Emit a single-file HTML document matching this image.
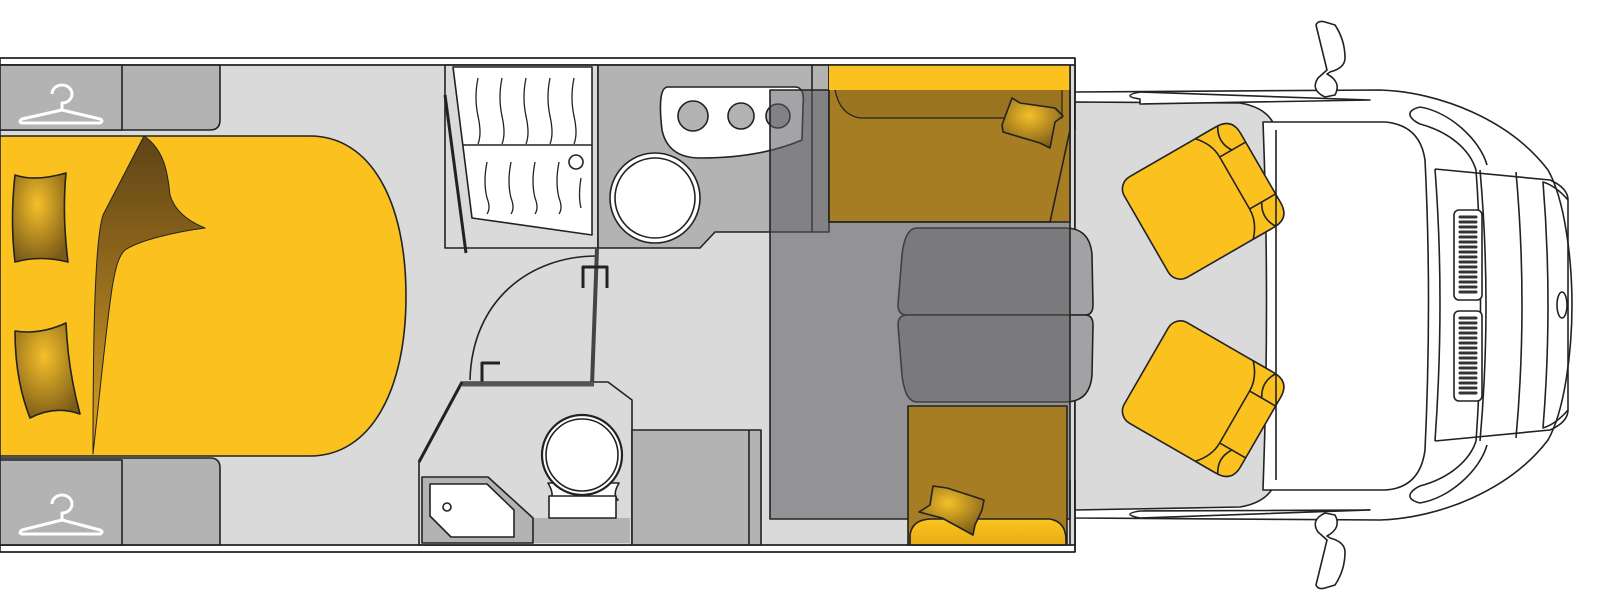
<!DOCTYPE html>
<html><head><meta charset="utf-8"><style>html,body{margin:0;padding:0;background:#fff}svg{display:block}</style></head>
<body>
<svg width="1600" height="611" viewBox="0 0 1600 611" xmlns="http://www.w3.org/2000/svg">
<defs>
<radialGradient id="pil" cx="0.45" cy="0.35" r="0.7"><stop offset="0" stop-color="#f5c02a"/><stop offset="1" stop-color="#7a5a18"/></radialGradient>
<linearGradient id="flap" x1="0" y1="0" x2="0" y2="1"><stop offset="0" stop-color="#5e4315"/><stop offset="0.6" stop-color="#a77a1f"/><stop offset="1" stop-color="#d9a21f"/></linearGradient>
<linearGradient id="ys" x1="0" y1="0" x2="0" y2="1"><stop offset="0" stop-color="#fbc41e"/><stop offset="1" stop-color="#e9ad18"/></linearGradient>
</defs>
<g stroke="#222" stroke-width="1.6" stroke-linejoin="round">
<rect x="0" y="58" width="1075" height="494" fill="#fff"/>
<rect x="0" y="65" width="1075" height="480" fill="#dadada"/>
<path d="M1075,92 L1380,90 C1440,92 1510,120 1548,170 C1565,200 1572,260 1572,305 C1572,350 1565,410 1548,440 C1510,490 1440,518 1380,520 L1075,518 Z" fill="#fff"/>
<path d="M1075,102 L1240,103 Q1270,108 1276,130 V480 Q1270,502 1240,507 L1075,510 Z" fill="#dadada"/>
<path d="M0,65 H220 V120 Q220,130 210,130 H0 Z" fill="#b3b3b3"/>
<rect x="0" y="65" width="122" height="65" fill="#b3b3b3"/>
<path d="M0,458 H210 Q220,458 220,468 V545 H0 Z" fill="#b3b3b3"/>
<rect x="0" y="460" width="122" height="85" fill="#b3b3b3"/>
<path d="M0,136 H310 C370,136 406,200 406,296 C406,392 370,456 310,456 H0 Z" fill="#fbc11f"/>
<path d="M144,136 C165,150 168,175 170,195 C175,212 190,222 205,228 C175,232 140,240 125,250 C112,262 110,300 93,454 C93,330 95,240 103,215 Z" fill="url(#flap)" stroke-width="1"/>
<path d="M15,175 Q35,182 66,173 Q62,215 68,262 Q40,255 15,262 Q10,220 15,175 Z" fill="url(#pil)"/>
<path d="M15,331 Q40,335 66,323 Q68,370 80,414 Q55,405 30,418 Q15,380 15,331 Z" fill="url(#pil)"/>
<g fill="none" stroke="#fff" stroke-width="3">
<path d="M52,94 A10,9 0 1 1 62,103 V110 M62,110 L22,119 Q18,122 22,123 H100 Q104,121 100,119 L62,110"/>
<path d="M52,504 A10,9 0 1 1 62,513 V520 M62,520 L22,530 Q18,533 22,534 H100 Q104,532 100,530 L62,520"/>
</g>
<rect x="445" y="65" width="153" height="183" fill="#dadada"/>
<path d="M453,67 H592 V235 L472,218 Z" fill="#fff"/>
<line x1="463" y1="145" x2="592" y2="145"/>
<g fill="none" stroke-width="1.3">
<path d="M478,78 q-4,20 0,38 q4,18 0,28 M502,78 q-4,20 0,38 q4,18 0,28 M526,78 q-4,20 0,38 q4,18 0,28 M550,78 q-4,20 0,38 q4,18 0,28 M574,78 q-4,20 0,38 q4,18 0,28"/>
<path d="M487,162 q-4,20 0,36 q4,10 0,16 M511,162 q-4,20 0,36 q4,10 0,16 M535,162 q-4,20 0,36 q4,10 0,16 M559,162 q-4,20 0,36 q4,10 0,16 M581,178 q-3,18 0,30"/>
</g>
<circle cx="576" cy="162" r="7" fill="#fff"/>
<line x1="445" y1="95" x2="466" y2="253" stroke-width="3"/>
<path d="M598,65 H829 V232 H715 L700,248 H598 Z" fill="#b3b3b3"/>
<line x1="812" y1="65" x2="812" y2="232"/>
<path d="M668,87 H795 Q805,87 803,105 L802,140 Q760,158 700,158 Q668,158 662,130 Q657,87 668,87 Z" fill="#fff"/>
<circle cx="693" cy="116" r="15" fill="#b3b3b3"/><circle cx="741" cy="116" r="13" fill="#b3b3b3"/><circle cx="778" cy="116" r="12" fill="#b3b3b3"/>
<circle cx="655" cy="198" r="45" fill="#fff"/><circle cx="655" cy="198" r="40" fill="#fff"/>
<path d="M597,256 C530,256 472,300 470,380" fill="none"/>
<line x1="597" y1="248" x2="592" y2="385" stroke-width="4" stroke="#444"/>
<path d="M583,288 V267 H607 V288" fill="none" stroke-width="3"/>
<path d="M500,363 H482 V395 H500" fill="none" stroke-width="3"/>
<path d="M419,545 V462 L462,382 H608 L632,400 V545 Z" fill="#dadada"/>
<line x1="462" y1="384" x2="594" y2="384" stroke-width="5" stroke="#555"/>
<line x1="419" y1="462" x2="462" y2="382" stroke-width="3"/>
<path d="M533,518 H630 V543 H533 Z" fill="#b3b3b3" stroke="none"/>
<path d="M422,477 H488 L533,518 V543 H422 Z" fill="#b3b3b3"/>
<path d="M430,484 H487 L514,510 V537 H451 L430,516 Z" fill="#fff"/>
<circle cx="447" cy="507" r="4" fill="#fff"/>
<path d="M548,483 Q555,495 550,500 H618 Q612,495 619,483 Z" fill="#fff"/>
<rect x="549" y="496" width="67" height="22" fill="#fff"/>
<circle cx="582" cy="455" r="40" fill="#fff" stroke-width="2.2"/><circle cx="582" cy="455" r="36" fill="#fff"/>
<rect x="632" y="430" width="129" height="115" fill="#b3b3b3"/>
<line x1="749" y1="430" x2="749" y2="545"/>
<path d="M917,228 H1065 Q1090,228 1092,255 L1093,305 Q1093,315 1085,315 H907 Q898,315 898,305 L902,255 Q905,228 917,228 Z" fill="#a2a2a4"/>
<path d="M907,315 H1085 Q1093,315 1093,325 L1092,375 Q1090,402 1065,402 H917 Q905,402 902,375 L898,325 Q898,315 907,315 Z" fill="#a2a2a4"/>
<rect x="770" y="90" width="300" height="429" fill="#5a595d" fill-opacity="0.55"/>
<path d="M829,65 H1070 V222 H829 Z" fill="#a67d22"/>
<path d="M829,65 H1070 V90 H829 Z" fill="#fbc11f" stroke="none"/>
<path d="M835,90 Q840,115 860,118 H1062 V90" fill="#9a741f" stroke-width="1.2"/>
<path d="M1070,130 L1050,222 H829" fill="none"/>
<path d="M1012,98 L1020,103 L1055,108 L1063,116 L1055,122 L1050,148 L1040,143 L1003,132 L1002,125 Z" fill="url(#pil)"/>
<rect x="908" y="406" width="159" height="139" fill="#a67d22"/>
<path d="M910,545 V535 Q912,520 930,519 H1050 Q1066,522 1066,540 V545 Z" fill="url(#ys)"/>
<path d="M933,486 L930,505 L919,512 L942,518 L973,535 L975,525 L982,510 L984,500 L975,497 L947,488 Z" fill="url(#pil)"/>
<line x1="0" y1="58" x2="1075" y2="58"/><line x1="0" y1="65" x2="1075" y2="65"/>
<line x1="0" y1="545" x2="1075" y2="545"/><line x1="0" y1="552" x2="1075" y2="552"/>
<line x1="1075" y1="58" x2="1075" y2="130"/><line x1="1075" y1="480" x2="1075" y2="552"/>
<line x1="1070" y1="65" x2="1070" y2="130"/><line x1="1070" y1="480" x2="1070" y2="545"/>
<path d="M1140,99 Q1120,96 1140,92 L1370,100 L1140,104 Z M1140,511 Q1120,514 1140,518 L1370,510 Z" fill="#fff"/>
<path d="M1263,122 H1385 Q1420,125 1425,160 Q1432,300 1425,450 Q1420,488 1385,490 H1263 Q1270,300 1263,122 Z" fill="#fff"/>
<path d="M1420,107 C1450,112 1480,140 1487,165 M1420,503 C1450,498 1480,470 1487,445" fill="none"/>
<path d="M1420,107 C1400,112 1415,122 1420,124 C1450,132 1470,150 1476,170 C1482,250 1482,360 1476,441 C1470,460 1450,478 1420,486 C1415,488 1400,498 1420,503" fill="none"/>
<path d="M1435,169 L1550,180 Q1568,188 1568,200 M1435,441 L1550,430 Q1568,422 1568,410" fill="none"/>
<path d="M1435,169 Q1445,300 1435,441" fill="none"/>
<path d="M1480,170 Q1492,305 1480,441 M1516,172 Q1528,305 1516,438" fill="none"/>
<path d="M1543,182 Q1553,305 1543,428 Q1556,424 1568,410 V200 Q1556,186 1543,182 Z" fill="none"/>
<ellipse cx="1562" cy="305" rx="5" ry="13" fill="#fff"/>
<rect x="1454" y="210" width="28" height="90" rx="5" fill="#fff"/>
<rect x="1454" y="311" width="28" height="90" rx="5" fill="#fff"/>
<g stroke="#333" stroke-width="3" stroke-linecap="round">
<path d="M1460,217H1476M1460,222H1476M1460,227H1476M1460,232H1476M1460,237H1476M1460,242H1476M1460,247H1476M1460,252H1476M1460,257H1476M1460,262H1476M1460,267H1476M1460,272H1476M1460,277H1476M1460,282H1476M1460,287H1476M1460,292H1476"/>
<path d="M1460,318H1476M1460,323H1476M1460,328H1476M1460,333H1476M1460,338H1476M1460,343H1476M1460,348H1476M1460,353H1476M1460,358H1476M1460,363H1476M1460,368H1476M1460,373H1476M1460,378H1476M1460,383H1476M1460,388H1476M1460,393H1476"/>
</g>
<path d="M1316,25 Q1318,20 1325,22 L1335,25 Q1345,40 1345,58 Q1345,68 1330,72 L1327,74 Q1342,82 1335,95 L1325,97 Q1310,90 1318,78 L1327,70 Z" fill="#fff"/>
<path d="M1316,585 Q1318,590 1325,588 L1335,585 Q1345,570 1345,552 Q1345,542 1330,538 L1327,536 Q1342,528 1335,515 L1325,513 Q1310,520 1318,532 L1327,540 Z" fill="#fff"/>
<g transform="translate(1200,203) rotate(-30)">
<rect x="-62" y="-58" width="124" height="116" rx="14" fill="#fbc11f"/>
<path d="M28,-58 H52 Q70,-58 70,-40 V40 Q70,58 52,58 H28 Q40,45 40,30 V-30 Q40,-45 28,-58 Z" fill="#fbc11f"/>
<path d="M40,-30 H70 M40,30 H70 M54,-58 Q45,-44 54,-30 M54,58 Q45,44 54,30" fill="none"/>
</g>
<g transform="translate(1200,397) rotate(30)">
<rect x="-62" y="-58" width="124" height="116" rx="14" fill="#fbc11f"/>
<path d="M28,-58 H52 Q70,-58 70,-40 V40 Q70,58 52,58 H28 Q40,45 40,30 V-30 Q40,-45 28,-58 Z" fill="#fbc11f"/>
<path d="M40,-30 H70 M40,30 H70 M54,-58 Q45,-44 54,-30 M54,58 Q45,44 54,30" fill="none"/>
</g>
<path d="M1276,130 V480" fill="none"/>
</g>
</svg>
</body></html>
